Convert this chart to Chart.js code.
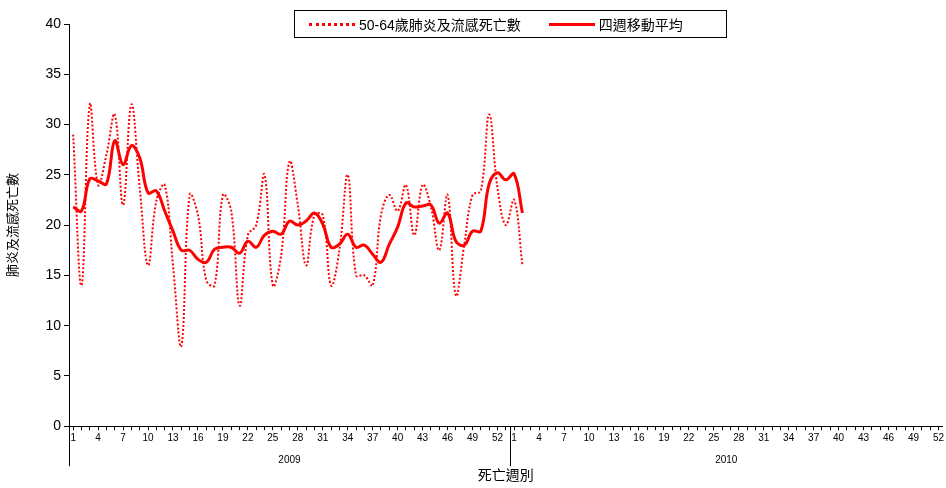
<!DOCTYPE html>
<html lang="zh-Hant">
<head>
<meta charset="UTF-8">
<title>50-64歲肺炎及流感死亡數</title>
<style>
  body { margin: 0; background: #fff; font-family: "Liberation Sans", "Noto Sans CJK TC", sans-serif; }
  #wrap { position: relative; width: 946px; height: 488px; }
  #legend {
    position: absolute; left: 294px; top: 10px; width: 431px; height: 26px;
    border: 1px solid #000; font-size: 14px; display: flex; align-items: center;
  }
  #legend span.item { display: flex; align-items: center; margin-left: 14px; }
  #legend span.item + span.item { margin-left: 28px; }
  #legend .sw { display: inline-block; width: 46px; height: 0; margin-right: 4px; }
</style>
<script src="https://cdn.jsdelivr.net/npm/chart.js"></script>
</head>
<body>
<div id="wrap">
  <canvas id="c" width="946" height="488"></canvas>
  <div id="legend">
    <span class="item"><span class="sw" style="border-top:3px dotted #ff0000"></span>50-64歲肺炎及流感死亡數</span>
    <span class="item"><span class="sw" style="border-top:3px solid #ff0000"></span>四週移動平均</span>
  </div>
</div>
<script>
// 2009 has 53 weeks, 2010 has 52
const years = ['2009', '2010'];
const weeksPerYear = [53, 52];
const deaths = [29, 14, 32, 24, 27, 31, 22, 32, 23.7, 16, 22.4, 24, 16, 8, 23, 21, 14.5, 14, 23, 21.4,
  12, 19, 20, 25, 14, 17, 26.3, 22, 16, 21, 21, 14, 17.5, 25, 15, 15, 14, 21, 23, 21.4,
  24, 19, 24, 21.8, 17.5, 23, 13, 18, 23, 23.4, 31, 23.7, 20, 22.5, 16];
const movingAvg = [21.8, 21.4, 24.6, 24.4, 24.1, 28.4, 26, 27.9, 26.7, 23.2, 23.4, 21.4, 19.4, 17.5, 17.5, 16.6, 16.3, 17.6, 17.8, 17.8,
  17.2, 18.4, 17.8, 19, 19.4, 19.1, 20.4, 20, 20.4, 21.2, 20.1, 17.8, 18.1, 19.1, 17.8, 18, 17.1, 16.3, 18.1, 19.8,
  22.2, 21.8, 21.9, 22, 20.2, 21.2, 18.4, 18, 19.4, 19.4, 24.1, 25.2, 24.5, 25.1, 21.2];

const labels = [];
const labelYear = [];
years.forEach((y, yi) => {
  for (let w = 1; w <= weeksPerYear[yi]; w++) { labels.push(String(w)); labelYear.push(yi); }
});

const yearRow = {
  id: 'yearRow',
  afterDraw(chart) {
    const ctx = chart.ctx, xs = chart.scales.x, area = chart.chartArea;
    ctx.save();
    ctx.strokeStyle = '#000';
    ctx.lineWidth = 1;
    // left axis extension and year separators
    const seps = [area.left];
    let idx = 0;
    for (let yi = 0; yi < years.length - 1; yi++) {
      idx += weeksPerYear[yi];
      seps.push((xs.getPixelForValue(idx - 1) + xs.getPixelForValue(idx)) / 2);
    }
    seps.forEach(x => {
      ctx.beginPath(); ctx.moveTo(Math.round(x) + 0.5, area.bottom); ctx.lineTo(Math.round(x) + 0.5, area.bottom + 40); ctx.stroke();
    });
    ctx.fillStyle = '#000';
    ctx.font = '10px "Liberation Sans"';
    ctx.textAlign = 'center';
    let start = 0;
    years.forEach((y, yi) => {
      const end = start + weeksPerYear[yi] - 1;
      const mid = (xs.getPixelForValue(start) + xs.getPixelForValue(end)) / 2;
      ctx.fillText(y, mid, area.bottom + 37);
      start = end + 1;
    });
    ctx.restore();
  }
};

new Chart(document.getElementById('c'), {
  type: 'line',
  data: {
    labels: labels,
    datasets: [
      { label: '50-64歲肺炎及流感死亡數', data: deaths, borderColor: '#ff0000', borderWidth: 2,
        borderDash: [2, 2], pointRadius: 0, tension: 0.4, fill: false },
      { label: '四週移動平均', data: movingAvg, borderColor: '#ff0000', borderWidth: 3,
        pointRadius: 0, tension: 0.4, fill: false }
    ]
  },
  options: {
    responsive: false,
    animation: false,
    layout: { padding: { top: 24, right: 0, bottom: 5, left: 0 } },
    plugins: { legend: { display: false }, tooltip: { enabled: false } },
    scales: {
      x: {
        offset: true,
        grid: { display: true, drawOnChartArea: false, color: '#000', tickLength: 4 },
        border: { color: '#000' },
        ticks: {
          autoSkip: false, maxRotation: 0, color: '#000', padding: 2,
          font: { size: 10, family: 'Liberation Sans' },
          callback: (v, i) => (Number(labels[i]) % 3 === 1 ? labels[i] : '')
        },
        title: { display: true, text: '死亡週別', color: '#000', padding: { top: 20, bottom: 0 },
          font: { size: 14, family: 'Noto Sans CJK TC' } }
      },
      y: {
        min: 0, max: 40,
        grid: { display: true, drawOnChartArea: false, color: '#000', tickLength: 5 },
        border: { color: '#000' },
        ticks: { stepSize: 5, color: '#000', font: { size: 14, family: 'Liberation Sans' } },
        title: { display: true, text: '肺炎及流感死亡數', color: '#000', padding: 4,
          font: { size: 13, family: 'Noto Sans CJK TC' } },
        afterFit: s => { s.width = 69; }
      }
    }
  },
  plugins: [yearRow]
});
</script>
</body>
</html>
